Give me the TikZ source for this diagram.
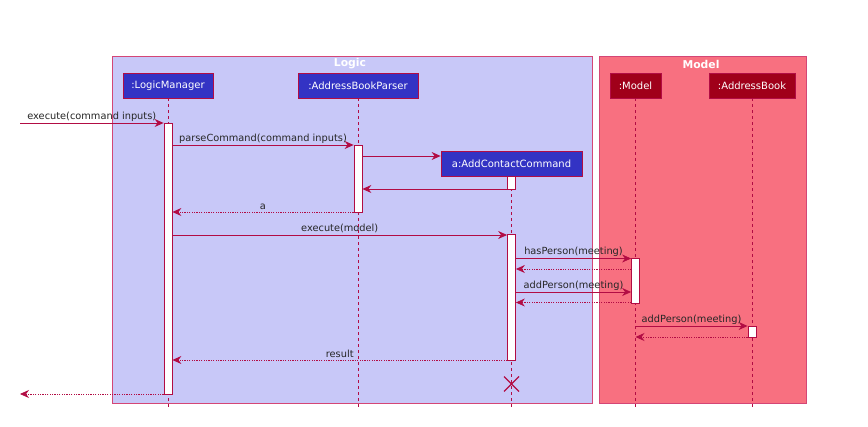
\documentclass[tikz,border=0pt]{standalone}
\usepackage{fontspec}
\setmainfont{DejaVu Sans}
\usetikzlibrary{arrows.meta}
\definecolor{ln}{RGB}{178,12,68}
\definecolor{grpline}{RGB}{212,70,118}
\definecolor{logicbg}{RGB}{200,200,248}
\definecolor{modelbg}{RGB}{248,112,128}
\definecolor{logicp}{RGB}{51,51,196}
\definecolor{modelp}{RGB}{160,0,26}
\tikzset{
  grp/.style={draw=grpline, line width=0.8pt},
  grptitle/.style={text=white, font=\fontsize{10.8}{12}\selectfont\bfseries, inner sep=0pt},
  part/.style={draw=ln, line width=0.8pt, text=white, minimum height=25pt, inner sep=0pt, font=\fontsize{10}{12}\selectfont},
  life/.style={draw=ln, dash pattern=on 3pt off 3pt, line width=0.7pt},
  act/.style={draw=ln, fill=white, line width=0.8pt, minimum width=8pt, inner sep=0pt},
  msg/.style={draw=ln, line width=0.75pt, -{Stealth[length=9pt,width=8pt,inset=3pt]}},
  ret/.style={msg, dash pattern=on 1.2pt off 1.2pt},
  lbl/.style={anchor=south, inner sep=1.5pt, font=\fontsize{9.8}{12}\selectfont, text=black!85}
}
\begin{document}
\begin{tikzpicture}[x=1pt,y=-1pt]
\useasboundingbox (0,0) rectangle (868,427);
\fill[white] (0,0) rectangle (868,427);
% groups
\draw[grp, fill=logicbg] (112,56) rectangle (592,403);
\draw[grp, fill=modelbg] (599,56) rectangle (806,403);
\node[grptitle] (tLogic) at (350,64) {Logic};
\node[grptitle] (tModel) at (701,64) {Model};
% participants
\node[part, fill=logicp, minimum width=90pt] (lm) at (168,85.5) {:LogicManager};
\node[part, fill=logicp, minimum width=120pt] (pa) at (358,85.5) {:AddressBookParser};
\node[part, fill=logicp, minimum width=141pt] (ac) at (511.5,163.5) {a:AddContactCommand};
\node[part, fill=modelp, minimum width=51pt] (mo) at (635.5,85.5) {:Model};
\node[part, fill=modelp, minimum width=86pt] (ab) at (752,85.5) {:AddressBook};
% lifeline ends
\coordinate (lmEnd) at (168,409);
\coordinate (paEnd) at (358,409);
\coordinate (acEnd) at (511.5,409);
\coordinate (moEnd) at (635.5,409);
\coordinate (abEnd) at (752,409);
\draw[life] (lm.south) -- (lmEnd);
\draw[life] (pa.south) -- (paEnd);
\draw[life] (ac.south) -- (acEnd);
\draw[life] (mo.south) -- (moEnd);
\draw[life] (ab.south) -- (abEnd);
% activations
\node[act, minimum height=271pt] (lmA) at (168,258.5) {};
\node[act, minimum height=67pt] (paA) at (358,178.5) {};
\node[act, minimum height=13pt] (acA1) at (511.5,182.5) {};
\node[act, minimum height=126pt] (acA2) at (511.5,297) {};
\node[act, minimum height=45pt] (moA) at (635.5,280.5) {};
\node[act, minimum height=11pt] (abA) at (752,331.5) {};
% message rows
\coordinate (in0) at (20,123);
\coordinate (out0) at (20,394);
\coordinate (y2) at (0,145);
\coordinate (y3) at (0,156);
\coordinate (y4) at (0,189);
\coordinate (y5) at (0,212);
\coordinate (y6) at (0,235);
\coordinate (y7) at (0,258.5);
\coordinate (y8) at (0,269);
\coordinate (y9) at (0,292);
\coordinate (y10) at (0,302.5);
\coordinate (y11) at (0,326);
\coordinate (y12) at (0,337);
\coordinate (y13) at (0,360);
% messages
\draw[msg] (in0) -- (lmA.west |- in0) node[lbl, midway] {execute(command inputs)};
\draw[msg] (lmA.east |- y2) -- (paA.west |- y2) node[lbl, midway] {parseCommand(command inputs)};
\draw[msg] (paA.east |- y3) -- (ac.west |- y3);
\draw[msg] (acA1.west |- y4) -- (paA.east |- y4);
\draw[ret] (paA.west |- y5) -- (lmA.east |- y5) node[lbl, midway] {a};
\draw[msg] (lmA.east |- y6) -- (acA2.west |- y6) node[lbl, midway] {execute(model)};
\draw[msg] (acA2.east |- y7) -- (moA.west |- y7) node[lbl, midway] {hasPerson(meeting)};
\draw[ret] (moA.west |- y8) -- (acA2.east |- y8);
\draw[msg] (acA2.east |- y9) -- (moA.west |- y9) node[lbl, midway] {addPerson(meeting)};
\draw[ret] (moA.west |- y10) -- (acA2.east |- y10);
\draw[msg] (mo.south |- y11) -- (abA.west |- y11) node[lbl, midway] {addPerson(meeting)};
\draw[ret] (abA.west |- y12) -- (mo.south |- y12);
\draw[ret] (acA2.west |- y13) -- (lmA.east |- y13) node[lbl, midway] {result};
\draw[ret] (lmA.west |- out0) -- (out0);
% destroy
\coordinate (xc) at (511.5,384);
\draw[draw=ln, line width=1.2pt] ([shift={(-7.5,-7.5)}]xc) -- ([shift={(7.5,7.5)}]xc) ([shift={(-7.5,7.5)}]xc) -- ([shift={(7.5,-7.5)}]xc);
\end{tikzpicture}
\end{document}
